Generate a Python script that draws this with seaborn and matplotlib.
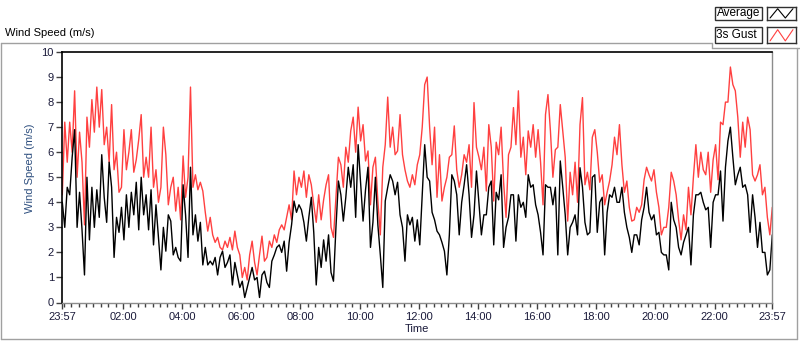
import numpy as np
import pandas as pd
import matplotlib
matplotlib.use("Agg")
import matplotlib.pyplot as plt
import seaborn as sns
from matplotlib.lines import Line2D
from matplotlib.patches import Rectangle

# 3s gust (m/s), every 5 minutes from 23:57 to 23:57
gust = [
    # 23:57 - 03:27
    4.3, 7.2, 5.6, 7.2, 6.0, 8.45, 5.0, 6.8, 5.6, 3.1, 7.4, 6.2, 8.1, 6.8, 8.6,
    7.0, 8.5, 6.3, 7.0, 5.6, 7.9, 5.3, 6.0, 4.4, 4.6, 6.9, 5.3, 6.0, 6.9, 5.2,
    5.7, 6.5, 7.5, 5.0, 5.8, 5.0, 7.0, 4.6, 5.3, 4.0, 4.6,
    # 03:32 - 07:02
    7.0, 5.9, 3.9, 4.6, 5.0, 3.65, 4.6, 3.3, 5.85, 4.2, 5.0, 8.6, 4.6, 5.1, 4.5,
    4.8, 4.45, 3.6, 2.85, 3.4, 2.7, 2.4, 2.6, 2.2, 2.1, 2.45, 2.2, 2.6, 2.1, 2.85,
    2.2, 1.9, 1.0, 1.4, 0.9, 1.9, 2.45, 1.6, 1.1, 1.9, 2.65, 1.65,
    # 07:07 - 10:27
    1.8, 2.45, 2.2, 2.7, 2.4, 2.9, 3.1, 2.9, 3.4, 3.9, 3.3, 5.25, 4.3, 5.0, 4.6,
    5.25, 4.2, 5.1, 4.7, 3.9, 3.2, 4.3, 3.3, 4.1, 4.7, 5.1, 3.0, 2.6, 4.2, 5.8,
    5.5, 4.6, 6.2, 5.6, 6.85, 7.4, 6.0, 7.8, 6.45, 7.1, 5.65,
    # 10:32 - 13:57
    6.05, 3.9, 5.4, 5.8, 4.05, 2.7, 5.4, 6.3, 8.2, 6.2, 7.0, 5.9, 6.05, 7.5, 5.9,
    5.3, 4.85, 4.6, 5.1, 4.7, 5.5, 5.9, 7.0, 8.7, 9.0, 7.0, 5.5, 7.0, 4.2, 5.9,
    4.05, 4.6, 5.0, 5.8, 5.9, 7.05, 5.3, 4.6, 5.1, 5.9, 5.6, 6.3,
    # 14:02 - 17:22
    4.6, 7.98, 6.2, 5.8, 5.3, 6.2, 4.45, 7.1, 6.2, 4.05, 6.4, 5.9, 7.0, 4.8, 3.4,
    5.9, 6.2, 7.78, 6.3, 8.45, 5.8, 6.6, 5.1, 6.85, 6.2, 7.1, 5.8, 6.9, 5.6, 3.9,
    7.5, 8.3, 6.85, 5.0, 6.1, 6.2, 7.9, 6.85, 5.8, 3.25, 5.2,
    # 17:27 - 20:47
    4.3, 5.6, 4.0, 7.1, 8.18, 4.7, 5.2, 4.5, 6.6, 6.9, 6.0, 4.8, 5.1, 3.9, 4.4,
    4.85, 5.5, 6.6, 5.9, 7.1, 5.5, 4.4, 4.85, 3.8, 3.25, 3.3, 3.8, 3.6, 3.9, 4.9,
    5.4, 5.1, 4.85, 5.3, 4.4, 3.8, 2.7, 3.0, 3.0, 3.8, 5.2,
    # 20:52 - 23:57
    4.85, 4.3, 3.3, 2.5, 3.5, 2.9, 4.6, 3.5, 5.0, 6.3, 5.0, 6.0, 5.3, 5.1, 6.0,
    4.4, 5.7, 6.3, 4.9, 7.2, 7.1, 8.0, 8.0, 9.4, 8.7, 8.45, 7.4, 5.8, 7.2, 6.2,
    7.4, 6.9, 5.1, 4.85, 5.1, 5.5, 4.3, 4.6, 3.4, 2.7, 3.8,
]

# average wind speed (m/s), same time steps
average = [
    4.0, 3.0, 4.6, 4.3, 5.8, 6.9, 3.0, 4.4, 2.9, 1.1, 5.0, 2.5, 4.6, 3.0, 4.5,
    3.4, 5.9, 4.2, 3.2, 5.6, 4.6, 1.8, 3.4, 2.8, 3.8, 2.5, 4.3, 3.0, 4.4, 3.5,
    4.8, 2.9, 5.0, 3.5, 4.3, 2.9, 4.5, 2.3, 3.9, 2.6, 1.3,
    3.0, 2.05, 3.5, 3.25, 1.9, 2.2, 1.8, 1.65, 4.7, 3.5, 1.8, 5.4, 2.7, 3.5, 2.45,
    3.2, 1.5, 2.2, 1.5, 1.65, 1.5, 1.8, 1.1, 1.8, 2.05, 1.4, 1.6, 1.9, 0.7, 1.6,
    1.1, 0.6, 0.85, 0.2, 0.6, 1.0, 1.4, 0.9, 1.0, 0.2, 1.1, 1.25,
    0.8, 0.6, 1.65, 1.9, 2.2, 2.3, 2.0, 2.45, 1.25, 2.4, 3.1, 4.05, 3.6, 3.9, 3.7,
    3.2, 2.45, 3.4, 4.2, 2.8, 0.7, 2.2, 1.4, 2.5, 1.65, 2.7, 1.2, 0.85, 3.0, 4.85,
    4.3, 3.25, 4.2, 5.4, 4.6, 5.5, 3.4, 6.3, 4.8, 3.25, 4.5,
    5.4, 2.2, 3.2, 5.0, 3.1, 1.9, 0.6, 4.05, 4.6, 5.1, 4.85, 4.3, 4.8, 3.5, 3.0,
    1.65, 3.5, 3.1, 3.4, 2.45, 3.3, 2.3, 4.3, 6.3, 5.0, 4.85, 3.6, 3.3, 2.85, 2.7,
    2.4, 2.05, 1.1, 2.7, 5.1, 4.85, 4.3, 2.7, 4.0, 4.7, 5.5, 4.3,
    2.6, 3.5, 5.25, 4.0, 2.7, 3.5, 3.5, 4.6, 4.85, 2.3, 4.4, 4.1, 5.1, 2.2, 3.0,
    3.4, 4.3, 4.3, 2.45, 4.3, 3.8, 4.0, 3.4, 5.1, 4.6, 4.7, 3.9, 3.5, 2.8, 1.9,
    4.7, 4.6, 4.6, 3.9, 4.6, 1.9, 5.65, 4.6, 3.5, 1.9, 3.0,
    3.2, 3.5, 2.7, 5.38, 4.6, 3.2, 2.7, 2.8, 5.0, 5.1, 2.8, 4.0, 4.2, 1.9, 3.6,
    4.3, 4.2, 4.6, 4.0, 4.0, 4.6, 3.6, 3.0, 2.6, 2.0, 2.7, 2.7, 2.3, 3.3, 3.8,
    4.6, 3.6, 3.3, 3.5, 2.7, 2.8, 2.0, 1.9, 1.9, 1.3, 4.0,
    3.3, 3.0, 2.2, 1.9, 2.4, 2.7, 3.0, 1.5, 3.5, 4.3, 4.3, 4.4, 4.0, 3.7, 3.8,
    2.2, 4.0, 4.3, 4.3, 5.25, 3.25, 5.4, 6.45, 7.0, 5.8, 4.7, 5.1, 5.4, 4.6, 4.7,
    4.3, 2.8, 4.3, 3.4, 2.2, 3.2, 2.0, 2.0, 1.1, 1.3, 2.7,
]

# minutes after 23:57
minutes = np.linspace(0, 1440, len(gust))

major_ticks = [0, 123, 243, 363, 483, 603, 723, 843, 963, 1083, 1203, 1323, 1440]
major_labels = ["23:57", "02:00", "04:00", "06:00", "08:00", "10:00", "12:00",
                "14:00", "16:00", "18:00", "20:00", "22:00", "23:57"]
minor_ticks = np.arange(3, 1440, 15)

W, H = 800, 342
GREY = "#a0a0a0"
TXT = "#1a1a3a"

sns.set_theme(style="ticks")
plt.rcParams["font.family"] = ["Liberation Sans", "DejaVu Sans"]

df = pd.DataFrame({"minutes": minutes, "Average": average, "3s Gust": gust})

fig = plt.figure(figsize=(W / 100, H / 100), dpi=100)
fig.patch.set_facecolor("white")
ax = fig.add_axes([62.3 / W, 39.5 / H, 710 / W, 250.5 / H])

sns.lineplot(data=df, x="minutes", y="3s Gust", color="#ff4040", linewidth=1.0, ax=ax)
sns.lineplot(data=df, x="minutes", y="Average", color="black", linewidth=1.0, ax=ax)

ax.set_xlim(0, 1440)
ax.set_ylim(0, 10)
ax.set_yticks(range(0, 11))
ax.set_xticks(major_ticks)
ax.set_xticklabels(major_labels)
ax.set_xticks(minor_ticks, minor=True)
ax.tick_params(axis="both", which="major", direction="out", length=4, width=1,
               color="#404040", labelsize=8, labelcolor=TXT, pad=2)
ax.tick_params(axis="x", which="minor", direction="out", length=3, width=1,
               color="#404040")
ax.tick_params(axis="x", which="major", pad=3)

ax.set_xlabel("Time", fontsize=8, color=TXT, labelpad=1)
ax.set_ylabel("Wind Speed (m/s)", fontsize=8, color="#2e4f7f")
ax.yaxis.set_label_coords(-0.038, 0.534)

for side in ["top", "left"]:
    ax.spines[side].set_color("black")
    ax.spines[side].set_linewidth(1.2)
for side in ["right", "bottom"]:
    ax.spines[side].set_color("#8c8c8c")
    ax.spines[side].set_linewidth(1)


def px_line(x0, y0, x1, y1, color=GREY):
    fig.add_artist(Line2D([x0 / W, x1 / W], [1 - y0 / H, 1 - y1 / H],
                          transform=fig.transFigure, color=color, lw=1))


# outer panel frame
px_line(1, 42.5, 712, 42.5)
px_line(712, 42.5, 712, 48.3)
px_line(712, 48.3, 800, 48.3)
px_line(1, 42.5, 1, 339)
px_line(1, 339, 797, 339)
px_line(797, 48.3, 797, 339)

fig.text(5 / W, 1 - 36 / H, "Wind Speed (m/s)", fontsize=8, color="black",
         va="baseline", ha="left")

# legend boxes (LabVIEW style)
legend_rows = [("Average", "black", 6.7, 20), ("3s Gust", "#ff4040", 27.3, 43.3)]
for name, col, y0, y1 in legend_rows:
    fig.add_artist(Rectangle((715 / W, 1 - y1 / H), 47 / W, (y1 - y0) / H,
                             transform=fig.transFigure, facecolor="white",
                             edgecolor="#303030", lw=1))
    fig.text(716.5 / W, 1 - (y0 + y1) / 2 / H, name, fontsize=8.5, color="black",
             va="center", ha="left")
    sw = fig.add_axes([767 / W, 1 - y1 / H, 29 / W, (y1 - y0) / H])
    sw.plot([0, 1, 2, 3], [0.15, 0.85, 0.15, 0.85], color=col, lw=0.8)
    sw.set_xlim(-0.4, 3.4)
    sw.set_ylim(0, 1)
    sw.set_xticks([])
    sw.set_yticks([])
    for s in sw.spines.values():
        s.set_color("#303030")
        s.set_linewidth(1)

fig.savefig("out.png", dpi=100, facecolor="white")
